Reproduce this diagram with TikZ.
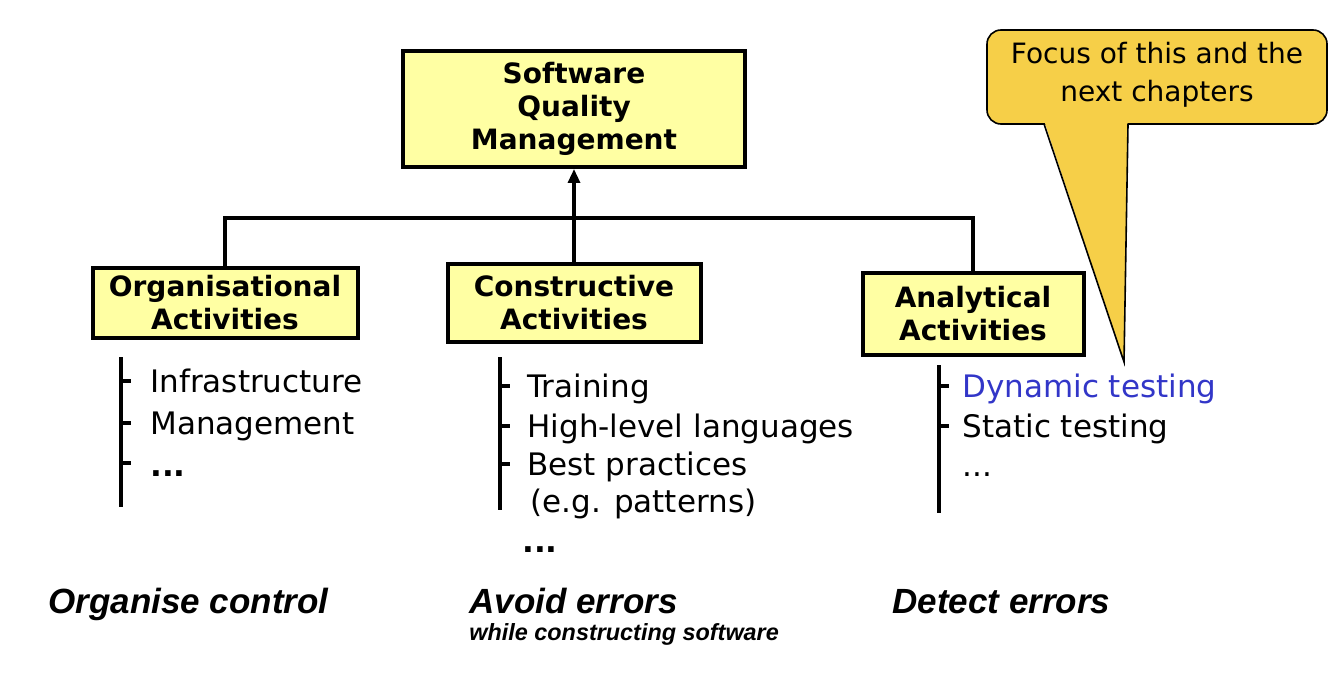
\documentclass[tikz,border=0pt]{standalone}
\usepackage{fontspec}
\setmainfont{DejaVu Sans}
\newfontfamily\arialfont{Liberation Sans}
\usetikzlibrary{arrows.meta}

\definecolor{boxyellow}{HTML}{FFFFA3}
\definecolor{calloutgold}{HTML}{F6CF48}
\definecolor{focusblue}{HTML}{3236C8}

\tikzset{
  activity/.style={draw, line width=2pt, fill=boxyellow, align=center,
    font=\bfseries\fontsize{14}{16.5}\selectfont, inner sep=0pt},
  link/.style={line width=1.6pt},
  listbar/.style={line width=1.6pt},
  item/.style={anchor=base west, inner sep=0pt, font=\fontsize{15.5}{18}\selectfont},
  goal/.style={anchor=base west, inner sep=0pt, font=\arialfont\bfseries\itshape\fontsize{17.5}{20}\selectfont},
}

\begin{document}
\begin{tikzpicture}[x=0.5pt, y=-0.5pt, >={Triangle[length=7pt,width=6pt]}]
  \useasboundingbox (0,0) rectangle (1336,684);

  % Boxes
  \node[activity, minimum width=171pt, minimum height=58pt] (sqm) at (574,109) {Software\\Quality\\Management};
  \node[activity, minimum width=132.5pt, minimum height=35pt] (org) at (225,303) {Organisational\\Activities};
  \node[activity, minimum width=126.5pt, minimum height=39pt] (con) at (574,303) {Constructive\\Activities};
  \node[activity, minimum width=110.5pt, minimum height=41pt] (ana) at (973,314) {Analytical\\Activities};

  % Tree
  \coordinate (join) at (574,218);
  \draw[link] (org.north) |- (join) -| (ana.north);
  \draw[link,->] (con.north) -- (sqm.south);

  % Organisational list
  \draw[listbar] (121,357) -- (121,507);
  \foreach \y in {381,423,463} \draw[listbar] (121,\y) -- ++(10,0);
  \node[item] (infra) at (150,392) {Infrastructure};
  \node[item] (mgmt) at (150,434) {Management};
  \node[item, font=\bfseries\fontsize{15.5}{18}\selectfont] (orgmore) at (150,476) {...};

  % Constructive list
  \draw[listbar] (500,357) -- (500,510);
  \foreach \y in {386,426,464} \draw[listbar] (500,\y) -- ++(10,0);
  \node[item] (train) at (527,397) {Training};
  \node[item] (hll) at (527,437) {High-level languages};
  \node[item] (best) at (527,475) {Best practices};
  \node[item] (patt) at (530,512) {(e.g. patterns)};
  \node[item, font=\bfseries\fontsize{15.5}{18}\selectfont] (conmore) at (522,552) {...};

  % Analytical list
  \draw[listbar] (939,365) -- (939,513);
  \foreach \y in {386,426} \draw[listbar] (939,\y) -- ++(10,0);
  \node[item, text=focusblue] (dyn) at (962,397) {Dynamic testing};
  \node[item] (stat) at (962,437) {Static testing};
  \node[item] (anamore) at (962,476) {...};

  % Goals
  \node[goal] (orggoal) at (48,613) {Organise control};
  \node[goal] (congoal) at (469,613) {Avoid errors};
  \node[goal, font=\arialfont\bfseries\itshape\fontsize{11.7}{13}\selectfont] (consub) at (469,640) {while constructing software};
  \node[goal] (anagoal) at (892,613) {Detect errors};

  % Callout
  \filldraw[fill=calloutgold, line width=0.8pt, rounded corners=7pt] (987,30) rectangle (1327,124);
  \fill[calloutgold] (1044.5,122) -- (1124,362) -- (1127.5,122) -- cycle;
  \draw[line width=0.8pt] (1044,124) -- (1124,362) -- (1128,124);
  \node[align=center, font=\fontsize{14}{19}\selectfont] (focus) at (1157,75) {Focus of this and the\\next chapters};
\end{tikzpicture}
\end{document}
